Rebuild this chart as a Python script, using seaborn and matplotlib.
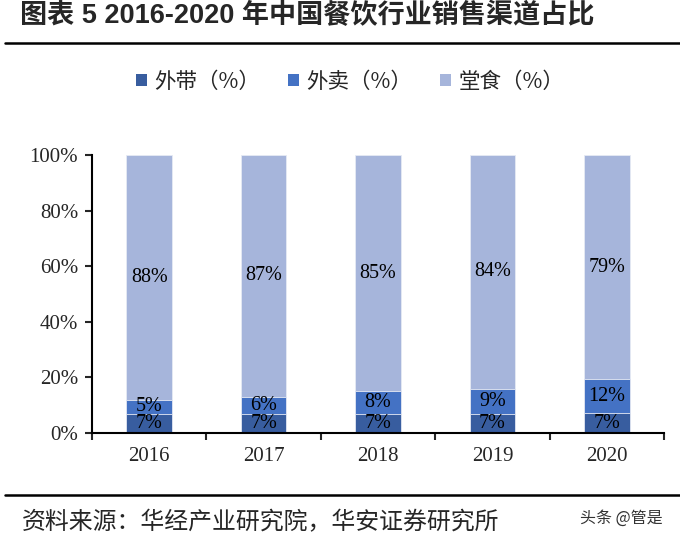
import numpy as np
import pandas as pd
import matplotlib
matplotlib.use("Agg")
import matplotlib.pyplot as plt
import seaborn as sns

# -------- DATA --------
years = ["2016", "2017", "2018", "2019", "2020"]
takeaway_self = [7, 7, 7, 7, 7]        # 外带（%）
delivery = [5, 6, 8, 9, 12]            # 外卖（%）
dine_in = [88, 87, 85, 84, 79]         # 堂食（%）
series_names = ["外带（%）", "外卖（%）", "堂食（%）"]
colors = ["#385D9F", "#4472C4", "#A6B5DB"]
y_ticks = [0, 20, 40, 60, 80, 100]

# -------- 100% STACK --------
df = pd.DataFrame({"year": years, "a": takeaway_self, "b": delivery, "c": dine_in})
total = df[["a", "b", "c"]].sum(axis=1)
df["s1"] = df["a"] / total * 100
df["s2"] = (df["a"] + df["b"]) / total * 100
df["s3"] = (df["a"] + df["b"] + df["c"]) / total * 100

sns.set_style("white")
plt.rcParams["font.family"] = ["Liberation Serif", "Noto Sans CJK SC"]
cjk = ["Noto Sans CJK SC", "DejaVu Sans"]

fig = plt.figure(figsize=(6.8, 5.42), dpi=100)
ax = fig.add_axes([92 / 680, 1 - 433 / 542, 572 / 680, 278 / 542])

# draw tallest first so the lower segments sit on top
for col, name, c in [("s3", series_names[2], colors[2]),
                     ("s2", series_names[1], colors[1]),
                     ("s1", series_names[0], colors[0])]:
    sns.barplot(data=df, x="year", y=col, color=c, saturation=1, width=0.4,
                label=name, edgecolor="#E6EAF4", linewidth=0.6, ax=ax)

# value labels at segment centres
for i in range(len(years)):
    lo = [0, df["s1"][i], df["s2"][i]]
    hi = [df["s1"][i], df["s2"][i], df["s3"][i]]
    vals = [takeaway_self[i], delivery[i], dine_in[i]]
    for l, h, v in zip(lo, hi, vals):
        ax.text(i, (l + h) / 2, f"{v}%", ha="center", va="center",
                fontsize=14.5, color="black")

ax.set_ylim(0, 100)
ax.set_xlim(-0.5, len(years) - 0.5)
ax.set_yticks(y_ticks)
ax.set_yticklabels([f"{t}%" for t in y_ticks])
ax.set_xlabel("")
ax.set_ylabel("")
ax.tick_params(axis="y", labelsize=15, length=5, width=1.5, direction="out", pad=5, left=True)
ax.tick_params(axis="x", labelsize=15, length=0, pad=10)
ax.set_xticks(np.arange(-0.5, len(years)), minor=True)
ax.tick_params(axis="x", which="minor", length=5, width=1.5, direction="out", bottom=True)
for s in ["top", "right"]:
    ax.spines[s].set_visible(False)
for s in ["left", "bottom"]:
    ax.spines[s].set_color("black")
    ax.spines[s].set_linewidth(1.5)

# legend in series order, placed above the plot
handles, labels = ax.get_legend_handles_labels()
if ax.get_legend() is not None:
    ax.get_legend().remove()
order = [labels.index(n) for n in series_names]
leg = fig.legend([handles[k] for k in order], [labels[k] for k in order],
                 loc="center", bbox_to_anchor=(350 / 680, 1 - 82 / 542), ncol=3,
                 frameon=False, handlelength=0.5, handleheight=0.5,
                 handletextpad=0.35, columnspacing=1.3,
                 prop={"family": cjk, "size": 15.5})
for h in leg.legend_handles:
    h.set_edgecolor("none")

# title, rules and source
fig.text(20 / 680, 1 - 16 / 542, "图表 5 2016-2020 年中国餐饮行业销售渠道占比",
         ha="left", va="center", fontsize=19.5, fontweight="heavy",
         family=["Liberation Sans", "Noto Sans CJK SC"])
fig.add_artist(plt.Line2D([5 / 680, 1], [1 - 43 / 542] * 2, color="black", linewidth=1.8))
fig.add_artist(plt.Line2D([5 / 680, 1], [1 - 495 / 542] * 2, color="black", linewidth=1.8))
fig.text(22 / 680, 1 - 523 / 542, "资料来源：华经产业研究院，华安证券研究所",
         ha="left", va="center", fontsize=17.2, family=cjk)
fig.text(663 / 680, 1 - 518 / 542, "头条 @管是", ha="right", va="center",
         fontsize=11.5, color="#333333", family=cjk)

fig.savefig("out.png", dpi=100)
